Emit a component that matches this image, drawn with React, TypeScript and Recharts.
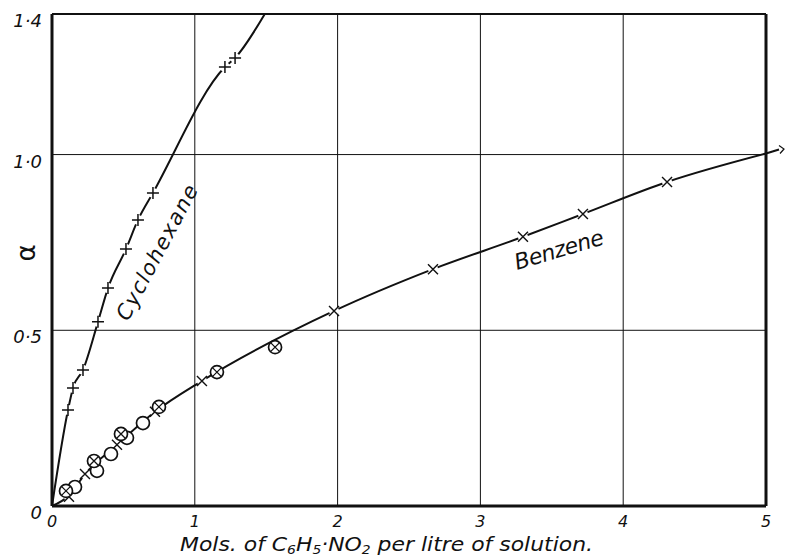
import { CartesianGrid, ComposedChart, Line, ReferenceLine, Scatter, XAxis, YAxis } from 'recharts';

// Cyclohexane: "+" marks
const cyclohexaneX = [0.112, 0.147, 0.217, 0.322, 0.392, 0.518, 0.602, 0.707, 1.211, 1.282];
const cyclohexaneY = [0.273, 0.336, 0.387, 0.524, 0.62, 0.731, 0.814, 0.891, 1.249, 1.275];
// drawn curve: origin, through the marks, out through the top frame
const cyclohexaneCurveX = [0, 0.112, 0.147, 0.217, 0.322, 0.392, 0.518, 0.602, 0.707, 1.211, 1.282, 1.49];
const cyclohexaneCurveY = [0, 0.273, 0.336, 0.387, 0.524, 0.62, 0.731, 0.814, 0.891, 1.249, 1.275, 1.4];

// Benzene: three kinds of marks
const benzeneCrossX = [0.119, 0.231, 0.455, 0.721, 1.05, 1.975, 2.668, 3.298, 3.718, 4.307];
const benzeneCrossY = [0.026, 0.091, 0.174, 0.268, 0.356, 0.555, 0.674, 0.766, 0.831, 0.922];
const benzeneCircleX = [0.161, 0.315, 0.413, 0.525, 0.637];
const benzeneCircleY = [0.054, 0.1, 0.148, 0.194, 0.236];
const benzeneCircleCrossX = [0.098, 0.294, 0.483, 0.749, 1.155, 1.562];
const benzeneCircleCrossY = [0.043, 0.128, 0.205, 0.282, 0.381, 0.452];
const benzeneCurveX = [0, 0.119, 0.231, 0.455, 0.721, 1.05, 1.975, 2.668, 3.298, 3.718, 4.307, 5.0];
const benzeneCurveY = [0, 0.03, 0.091, 0.174, 0.268, 0.356, 0.555, 0.674, 0.766, 0.831, 0.922, 1.003];
const benzeneEnd = [{ x: 5.0, y: 1.003 }];

const xTicks = [0, 1, 2, 3, 4, 5];
const xTickLabels = ['0', '1', '2', '3', '4', '5'];
const yTicks = [0, 0.5, 1.0, 1.4];
const yTickLabels = ['0', '0·5', '1·0', '1·4'];

const ink = '#111';
const font = '"DejaVu Sans", sans-serif';

const toPoints = (xs: number[], ys: number[]) => xs.map((x, i) => ({ x, y: ys[i] }));

const PlusMark = ({ cx, cy }: any) => (
  <g>
    <circle cx={cx} cy={cy} r={5} fill="#fff" />
    <path d={`M${cx - 6},${cy}H${cx + 6}M${cx},${cy - 6}V${cy + 6}`} stroke={ink} strokeWidth={1.5} />
  </g>
);

const CrossMark = ({ cx, cy }: any) => (
  <g>
    <circle cx={cx} cy={cy} r={5} fill="#fff" />
    <path
      d={`M${cx - 5},${cy - 5}L${cx + 5},${cy + 5}M${cx - 5},${cy + 5}L${cx + 5},${cy - 5}`}
      stroke={ink}
      strokeWidth={1.4}
    />
  </g>
);

const CircleMark = ({ cx, cy }: any) => (
  <circle cx={cx} cy={cy} r={6.5} fill="#fff" stroke={ink} strokeWidth={1.7} />
);

const CircleCrossMark = ({ cx, cy }: any) => (
  <g>
    <circle cx={cx} cy={cy} r={6.5} fill="#fff" stroke={ink} strokeWidth={1.7} />
    <path
      d={`M${cx - 4.5},${cy - 4.5}L${cx + 4.5},${cy + 4.5}M${cx - 4.5},${cy + 4.5}L${cx + 4.5},${cy - 4.5}`}
      stroke={ink}
      strokeWidth={1.3}
    />
  </g>
);

// the benzene curve runs a little past the frame and ends in an arrow head
const ArrowEnd = ({ cx, cy }: any) => (
  <g fill="none" stroke={ink}>
    <path d={`M${cx},${cy}L${cx + 13},${cy - 4}`} strokeWidth={2} />
    <path d={`M${cx + 13},${cy - 8}L${cx + 18},${cy - 4.5}L${cx + 14},${cy}`} strokeWidth={1.2} />
  </g>
);

const XTick = ({ x, y, payload }: any) => (
  <text x={x} y={y} dy={13} textAnchor="middle" fontFamily={font} fontStyle="italic" fontSize={16} fill={ink}>
    {xTickLabels[xTicks.indexOf(payload.value)]}
  </text>
);

const YTick = ({ x, y, payload }: any) => (
  <text x={x} y={y} dx={0} dy={13} textAnchor="end" fontFamily={font} fontStyle="italic" fontSize={18} fill={ink}>
    {yTickLabels[yTicks.indexOf(payload.value)]}
  </text>
);

const App = () => {
  return (
    <div style={{ position: 'absolute', left: 0, top: 0, width: 787, height: 558, background: '#fff' }}>
      <ComposedChart width={787} height={558} margin={{ top: 14, right: 21, bottom: 0, left: 0 }}>
        <CartesianGrid stroke={ink} strokeWidth={1} />
        <XAxis
          dataKey="x"
          type="number"
          domain={[0, 5]}
          ticks={xTicks}
          height={52}
          tickLine={false}
          tickSize={6}
          axisLine={{ stroke: ink, strokeWidth: 3 }}
          tick={<XTick />}
        />
        <YAxis
          type="number"
          domain={[0, 1.4]}
          ticks={yTicks}
          width={52}
          tickLine={false}
          tickSize={8}
          axisLine={{ stroke: ink, strokeWidth: 3 }}
          tick={<YTick />}
        />
        <ReferenceLine x={5} stroke={ink} strokeWidth={3} />
        <ReferenceLine y={1.4} stroke={ink} strokeWidth={1.8} />
        <Line
          data={toPoints(cyclohexaneCurveX, cyclohexaneCurveY)}
          dataKey="y"
          type="monotone"
          stroke={ink}
          strokeWidth={2}
          dot={false}
          isAnimationActive={false}
        />
        <Line
          data={toPoints(benzeneCurveX, benzeneCurveY)}
          dataKey="y"
          type="monotone"
          stroke={ink}
          strokeWidth={2}
          dot={false}
          isAnimationActive={false}
        />
        <Scatter data={benzeneEnd} dataKey="y" shape={<ArrowEnd />} isAnimationActive={false} />
        <Scatter data={toPoints(cyclohexaneX, cyclohexaneY)} dataKey="y" shape={<PlusMark />} isAnimationActive={false} />
        <Scatter data={toPoints(benzeneCrossX, benzeneCrossY)} dataKey="y" shape={<CrossMark />} isAnimationActive={false} />
        <Scatter data={toPoints(benzeneCircleX, benzeneCircleY)} dataKey="y" shape={<CircleMark />} isAnimationActive={false} />
        <Scatter
          data={toPoints(benzeneCircleCrossX, benzeneCircleCrossY)}
          dataKey="y"
          shape={<CircleCrossMark />}
          isAnimationActive={false}
        />
      </ComposedChart>
      <svg
        width={787}
        height={558}
        style={{ position: 'absolute', left: 0, top: 0, pointerEvents: 'none' }}
        fontFamily={font}
        fontStyle="italic"
        fill={ink}
      >
        <text x={158} y={253} fontSize={21} textAnchor="middle" dominantBaseline="middle" textLength={150} lengthAdjust="spacing" transform="rotate(-62 158 253)">
          Cyclohexane
        </text>
        <text x={517} y={270} fontSize={22} textLength={92} lengthAdjust="spacing" transform="rotate(-16.5 517 270)">
          Benzene
        </text>
        <text x={27} y={253} fontSize={26} textAnchor="middle" dominantBaseline="middle" fontStyle="normal" transform="rotate(-90 27 253)">
          α
        </text>
        <text x={180} y={551} fontSize={19} textLength={413} lengthAdjust="spacingAndGlyphs">
          Mols. of C<tspan fontSize={12} dy={3}>6</tspan>
          <tspan dy={-3}>H</tspan>
          <tspan fontSize={12} dy={3}>5</tspan>
          <tspan dy={-3}>·NO</tspan>
          <tspan fontSize={12} dy={3}>2</tspan>
          <tspan dy={-3}> per litre of solution.</tspan>
        </text>
      </svg>
    </div>
  );
};

export default App;
